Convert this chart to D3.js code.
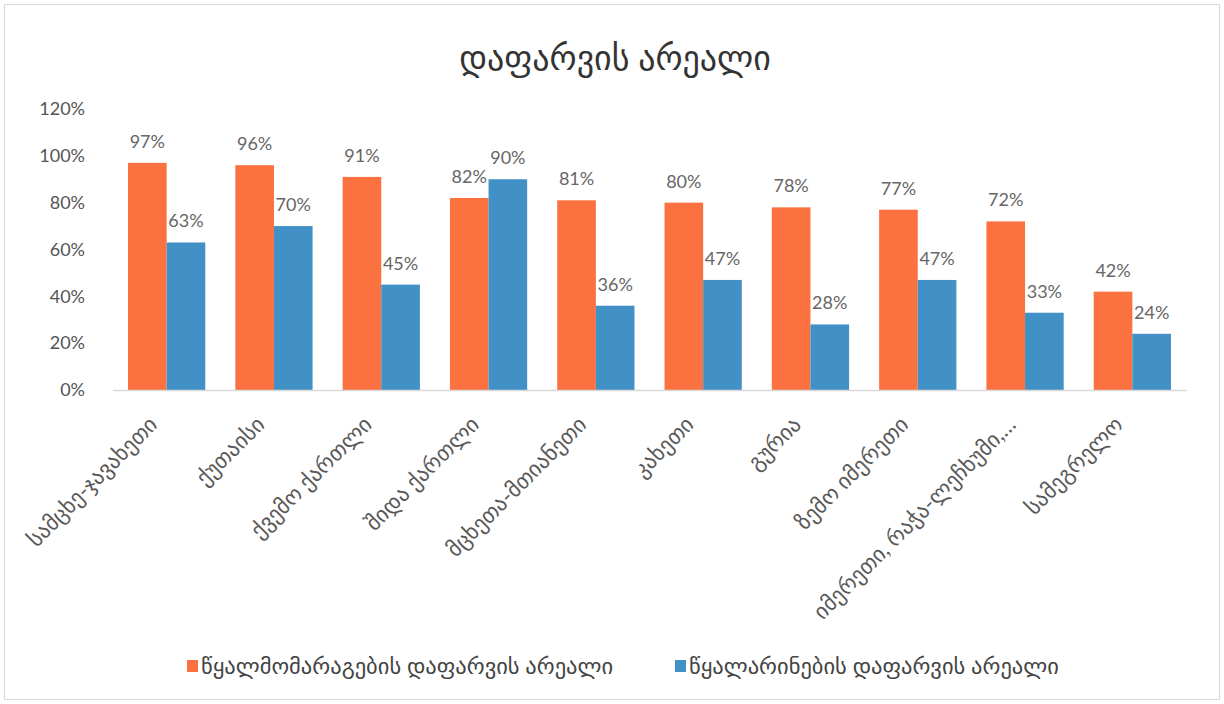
<!DOCTYPE html>
<html><head><meta charset="utf-8">
<script src="https://cdn.jsdelivr.net/npm/d3@7"></script>
<style>
html,body{margin:0;padding:0;background:#fff;}
svg text{font-family:Lato,"DejaVu Sans",sans-serif;}
</style></head>
<body><svg id="c" width="1224" height="704"></svg>
<script>
const title = "დაფარვის არეალი";
const categories = ["სამცხე-ჯავახეთი","ქუთაისი","ქვემო ქართლი","შიდა ქართლი","მცხეთა-მთიანეთი","კახეთი","გურია","ზემო იმერეთი","იმერეთი, რაჭა-ლეჩხუმი,…","სამეგრელო"];
const seriesNames = ["წყალმომარაგების დაფარვის არეალი","წყალარინების დაფარვის არეალი"];
const supplyValues = [0.97,0.96,0.91,0.82,0.81,0.80,0.78,0.77,0.72,0.42];
const sewerValues  = [0.63,0.70,0.45,0.90,0.36,0.47,0.28,0.47,0.33,0.24];
const yTicks = [0,0.2,0.4,0.6,0.8,1.0,1.2];
const colors = ["#FB7140","#4190C6"];

const svg = d3.select("#c");
svg.append("rect").attr("x",4.5).attr("y",4.5).attr("width",1215).attr("height",695)
  .attr("fill","#fff").attr("stroke","#d9d9d9");

const m = {left:113,right:1186,top:109,bottom:390};
const x = d3.scaleBand().domain(categories).range([m.left,m.right]).paddingInner(0.28).paddingOuter(0.14);
const x1 = d3.scaleBand().domain([0,1]).range([0,x.bandwidth()]);
const y = d3.scaleLinear().domain([0,1.2]).range([m.bottom,m.top]);
const fmt = d3.format(".0%");

svg.append("text").attr("x",615).attr("y",70).attr("text-anchor","middle")
  .attr("font-size",34).attr("fill","#333").text(title);

// y axis labels
const ya = svg.append("g").attr("transform",`translate(${m.left-10},0)`)
  .call(d3.axisLeft(y).tickValues(yTicks).tickFormat(fmt).tickSize(0).tickPadding(18));
ya.select(".domain").remove();
ya.selectAll("text").attr("font-size",18).attr("fill","#555").attr("font-family","Lato,'DejaVu Sans',sans-serif");

const series = [supplyValues, sewerValues];
series.forEach((vals,si)=>{
  const g = svg.append("g");
  g.selectAll("rect").data(categories).join("rect")
    .attr("x",c=>x(c)+x1(si)).attr("width",x1.bandwidth())
    .attr("y",(c,i)=>y(vals[i])).attr("height",(c,i)=>y(0)-y(vals[i]))
    .attr("fill",colors[si]);
  g.selectAll("text").data(categories).join("text")
    .attr("x",c=>x(c)+x1(si)+x1.bandwidth()/2)
    .attr("y",(c,i)=>y(vals[i])-15)
    .attr("text-anchor","middle").attr("font-size",18).attr("fill","#666")
    .text((c,i)=>fmt(vals[i]));
});

// x axis
const xa = svg.append("g").attr("transform",`translate(0,${m.bottom})`)
  .call(d3.axisBottom(x).tickSize(0).tickPadding(0));
xa.select(".domain").attr("stroke","#d9d9d9").attr("stroke-width",1.5);
xa.selectAll("text").attr("font-size",22).attr("fill","#595959")
  .attr("font-family","'DejaVu Sans',sans-serif")
  .attr("text-anchor","end").attr("dy",null)
  .attr("transform","translate(-8,36) rotate(-45)");

// legend
const leg = svg.append("g");
const lx = [187,675];
seriesNames.forEach((n,i)=>{
  leg.append("rect").attr("x",lx[i]).attr("y",660).attr("width",11).attr("height",12).attr("fill",colors[i]);
  leg.append("text").attr("x",lx[i]+14).attr("y",674).attr("font-size",22.5).attr("fill","#444")
    .attr("font-family","'DejaVu Sans',sans-serif").text(n);
});
</script></body></html>
